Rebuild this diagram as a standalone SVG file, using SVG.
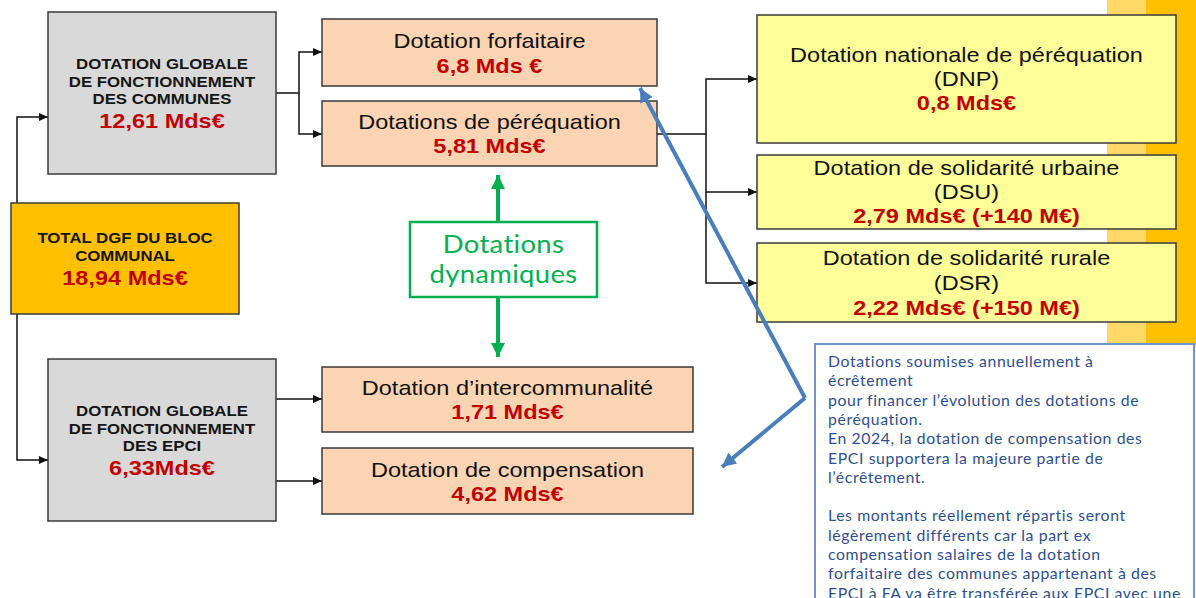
<svg xmlns="http://www.w3.org/2000/svg" width="1196" height="598" viewBox="0 0 1196 598">
<style>
.box{stroke:#3a3a3a;stroke-width:1.5}
.gray{fill:#d9d9d9}
.orange{fill:#ffc000}
.peach{fill:#fbd4b4}
.yellow{fill:#ffff99}
.hdr{font-family:"Liberation Sans",Arial,sans-serif;font-weight:bold;font-size:15px;fill:#151515;text-anchor:middle}
.lbl{font-family:"Liberation Sans",Arial,sans-serif;font-size:21px;fill:#111;text-anchor:middle}
.amt{font-family:"Liberation Sans",Arial,sans-serif;font-weight:bold;font-size:21px;fill:#c00000;text-anchor:middle}
.conn{fill:none;stroke:#111;stroke-width:1.5}
.green{fill:none;stroke:#00b050;stroke-width:4}
.blue{fill:none;stroke:#4a7ebb;stroke-width:4}
.gtxt{font-family:Lato,"Open Sans",sans-serif;font-size:24.5px;letter-spacing:0.3px;fill:#00b050;text-anchor:middle}
.note{font-family:Lato,"Open Sans",sans-serif;font-size:15.8px;letter-spacing:0.6px;fill:#2e4f8a}
</style>
<defs>
<marker id="ah" markerWidth="9" markerHeight="8" refX="9" refY="4" orient="auto" markerUnits="userSpaceOnUse"><path d="M0,0 L9,4 L0,8 Z" fill="#111"/></marker>
<marker id="gh" markerWidth="16" markerHeight="14" refX="14" refY="7" orient="auto" markerUnits="userSpaceOnUse"><path d="M0,0 L14,7 L0,14 Z" fill="#00b050"/></marker>
<marker id="bh" markerWidth="16" markerHeight="14" refX="14" refY="7" orient="auto" markerUnits="userSpaceOnUse"><path d="M0,0 L14,7 L0,14 Z" fill="#4a7ebb"/></marker>
</defs>

<g id="background">
<rect x="1107" y="0" width="40" height="346" fill="#ffd966"/>
<rect x="1146" y="0" width="50" height="346" fill="#ffc000"/>
</g>

<g id="connectors">
<path class="conn" d="M17,203 V117 H48" marker-end="url(#ah)"/>
<path class="conn" d="M17,314 V460 H48" marker-end="url(#ah)"/>
<path class="conn" d="M276,93 H299 V52 H322" marker-end="url(#ah)"/>
<path class="conn" d="M299,93 V134 H322" marker-end="url(#ah)"/>
<path class="conn" d="M276,399 H322" marker-end="url(#ah)"/>
<path class="conn" d="M276,481 H322" marker-end="url(#ah)"/>
<path class="conn" d="M657,134 H706 V79 H757" marker-end="url(#ah)"/>
<path class="conn" d="M706,134 V192 H757" marker-end="url(#ah)"/>
<path class="conn" d="M706,192 V283 H757" marker-end="url(#ah)"/>
<path class="green" d="M498,222 V175" marker-end="url(#gh)"/>
<path class="green" d="M498,297 V357" marker-end="url(#gh)"/>
</g>

<g id="dgf-communes">
<rect class="box gray" x="48" y="12" width="228" height="162"/>
<text class="hdr" transform="translate(162,69) scale(1.12,1)">DOTATION GLOBALE</text>
<text class="hdr" transform="translate(162,86.5) scale(1.12,1)">DE FONCTIONNEMENT</text>
<text class="hdr" transform="translate(162,104) scale(1.12,1)">DES COMMUNES</text>
<text class="amt" transform="translate(162,127.5) scale(1.12,1)">12,61 Mds€</text>
</g>

<g id="total-dgf">
<rect class="box orange" x="11" y="203" width="228" height="111"/>
<text class="hdr" transform="translate(125,243) scale(1.12,1)">TOTAL DGF DU BLOC</text>
<text class="hdr" transform="translate(125,261) scale(1.12,1)">COMMUNAL</text>
<text class="amt" transform="translate(125,285) scale(1.12,1)">18,94 Mds€</text>
</g>

<g id="dgf-epci">
<rect class="box gray" x="48" y="359" width="228" height="162"/>
<text class="hdr" transform="translate(162,416) scale(1.12,1)">DOTATION GLOBALE</text>
<text class="hdr" transform="translate(162,433.5) scale(1.12,1)">DE FONCTIONNEMENT</text>
<text class="hdr" transform="translate(162,451) scale(1.12,1)">DES EPCI</text>
<text class="amt" transform="translate(162,475) scale(1.12,1)">6,33Mds€</text>
</g>

<g id="forfaitaire">
<rect class="box peach" x="322" y="19" width="335" height="67"/>
<text class="lbl" transform="translate(489.5,48) scale(1.12,1)">Dotation forfaitaire</text>
<text class="amt" transform="translate(489.5,73) scale(1.12,1)">6,8 Mds €</text>
</g>

<g id="perequation">
<rect class="box peach" x="322" y="101" width="335" height="65"/>
<text class="lbl" transform="translate(489.5,129) scale(1.12,1)">Dotations de péréquation</text>
<text class="amt" transform="translate(489.5,153) scale(1.12,1)">5,81 Mds€</text>
</g>

<g id="dynamiques">
<rect x="410" y="222" width="187" height="75" fill="#fff" stroke="#00b050" stroke-width="2.5"/>
<text class="gtxt" transform="translate(503.5,253) scale(1.12,1)">Dotations</text>
<text class="gtxt" transform="translate(503.5,283) scale(1.12,1)">dynamiques</text>
</g>

<g id="intercommunalite">
<rect class="box peach" x="322" y="367" width="371" height="65"/>
<text class="lbl" transform="translate(507.5,395) scale(1.12,1)">Dotation d’intercommunalité</text>
<text class="amt" transform="translate(507.5,419) scale(1.12,1)">1,71 Mds€</text>
</g>

<g id="compensation">
<rect class="box peach" x="322" y="448" width="371" height="66"/>
<text class="lbl" transform="translate(507.5,477) scale(1.12,1)">Dotation de compensation</text>
<text class="amt" transform="translate(507.5,501) scale(1.12,1)">4,62 Mds€</text>
</g>

<g id="dnp">
<rect class="box yellow" x="757" y="15" width="419" height="128"/>
<text class="lbl" transform="translate(966.5,62) scale(1.12,1)">Dotation nationale de péréquation</text>
<text class="lbl" transform="translate(966.5,86) scale(1.12,1)">(DNP)</text>
<text class="amt" transform="translate(966.5,110) scale(1.12,1)">0,8 Mds€</text>
</g>

<g id="dsu">
<rect class="box yellow" x="757" y="155" width="419" height="74"/>
<text class="lbl" transform="translate(966.5,175) scale(1.12,1)">Dotation de solidarité urbaine</text>
<text class="lbl" transform="translate(966.5,199) scale(1.12,1)">(DSU)</text>
<text class="amt" transform="translate(966.5,223) scale(1.12,1)">2,79 Mds€ (+140 M€)</text>
</g>

<g id="dsr">
<rect class="box yellow" x="757" y="243" width="419" height="79"/>
<text class="lbl" transform="translate(966.5,265) scale(1.12,1)">Dotation de solidarité rurale</text>
<text class="lbl" transform="translate(966.5,290) scale(1.12,1)">(DSR)</text>
<text class="amt" transform="translate(966.5,315) scale(1.12,1)">2,22 Mds€ (+150 M€)</text>
</g>

<g id="note">
<rect x="815" y="344" width="379" height="270" fill="#fff" stroke="#6f97c9" stroke-width="2"/>
<text class="note" x="828" y="367">Dotations soumises annuellement à</text>
<text class="note" x="828" y="386.3">écrêtement</text>
<text class="note" x="828" y="405.6">pour financer l’évolution des dotations de</text>
<text class="note" x="828" y="424.9">péréquation.</text>
<text class="note" x="828" y="444.2">En 2024, la dotation de compensation des</text>
<text class="note" x="828" y="463.5">EPCI supportera la majeure partie de</text>
<text class="note" x="828" y="482.8">l’écrêtement.</text>
<text class="note" x="828" y="521.4">Les montants réellement répartis seront</text>
<text class="note" x="828" y="540.7">légèrement différents car la part ex</text>
<text class="note" x="828" y="560">compensation salaires de la dotation</text>
<text class="note" x="828" y="579.3">forfaitaire des communes appartenant à des</text>
<text class="note" x="828" y="598.6">EPCI à FA va être transférée aux EPCI avec une</text>
</g>

<g id="note-arrows">
<path class="blue" d="M805,398 L640,88" marker-end="url(#bh)"/>
<path class="blue" d="M805,398 L722,467" marker-end="url(#bh)"/>
</g>
</svg>
